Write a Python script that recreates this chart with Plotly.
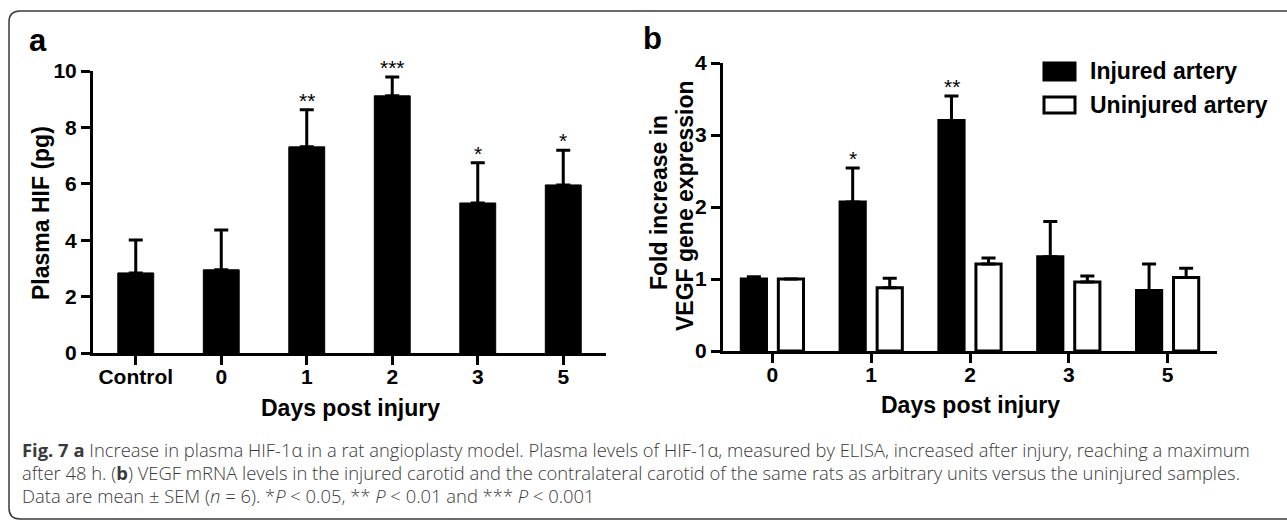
import plotly.graph_objects as go

# ---------------- data ----------------
days_a = ["Control", "0", "1", "2", "3", "5"]
hif_mean = [2.84, 2.95, 7.31, 9.12, 5.32, 5.96]
hif_sem = [1.17, 1.41, 1.32, 0.67, 1.43, 1.23]
sig_a = ["", "", "**", "***", "*", "*"]

days_b = ["0", "1", "2", "3", "5"]
inj_mean = [1.00, 2.07, 3.20, 1.31, 0.84]
inj_sem = [0.03, 0.47, 0.34, 0.49, 0.37]
uninj_mean = [1.00, 0.88, 1.21, 0.96, 1.02]
uninj_sem = [0.0, 0.13, 0.08, 0.08, 0.13]
sig_b = ["", "*", "**", "", ""]

series_names = ["Injured artery", "Uninjured artery"]

caption_lines = [
    "<b>Fig. 7 a</b> Increase in plasma HIF-1α in a rat angioplasty model. Plasma levels of HIF-1α, measured by ELISA, increased after injury, reaching a maximum",
    "after 48 h. (<b>b</b>) VEGF mRNA levels in the injured carotid and the contralateral carotid of the same rats as arbitrary units versus the uninjured samples.",
    "Data are mean ± SEM (<i>n</i> = 6). *<i>P</i> &lt; 0.05, ** <i>P</i> &lt; 0.01 and *** <i>P</i> &lt; 0.001",
]

# ---------------- layout helpers ----------------
W, H = 1287, 521
def px(x):
    return x / W
def py(y):
    return 1 - y / H

FONT = "Liberation Sans, Arial, sans-serif"
CAPFONT = "Open Sans, Lato, sans-serif"

fig = go.Figure()

err_style = dict(type="data", symmetric=False, color="black", thickness=3, width=7)

fig.add_trace(go.Bar(
    x=days_a, y=hif_mean, width=0.42,
    marker=dict(color="black", line=dict(color="black", width=1)),
    error_y=dict(array=hif_sem, arrayminus=[0] * len(hif_sem), **err_style),
    xaxis="x", yaxis="y", showlegend=False, name="Plasma HIF",
))

fig.add_trace(go.Bar(
    x=days_b, y=inj_mean, name=series_names[0],
    marker=dict(color="black", line=dict(color="black", width=3)),
    error_y=dict(array=inj_sem, arrayminus=[0] * len(inj_sem), **err_style),
    xaxis="x2", yaxis="y2", showlegend=False,
))
fig.add_trace(go.Bar(
    x=days_b, y=uninj_mean, name=series_names[1],
    marker=dict(color="white", line=dict(color="black", width=3)),
    error_y=dict(array=uninj_sem, arrayminus=[0] * len(uninj_sem), **err_style),
    xaxis="x2", yaxis="y2", showlegend=False,
))

axis_common = dict(
    showline=True, linewidth=3, linecolor="black", ticks="outside",
    ticklen=9, tickwidth=3, tickcolor="black", showgrid=False, zeroline=False,
    tickfont=dict(family=FONT, size=21, color="black", weight="bold"),
    fixedrange=True, automargin=False,
)

annotations = []
star_font = dict(family=FONT, size=21, color="black")
# significance stars (category index positions)
for i, (m, s, t) in enumerate(zip(hif_mean, hif_sem, sig_a)):
    if t:
        annotations.append(dict(x=i, y=m + s, xref="x", yref="y", text=t, showarrow=False,
                                yanchor="bottom", yshift=-4, font=star_font))
for i, (m, s, t) in enumerate(zip(inj_mean, inj_sem, sig_b)):
    if t:
        annotations.append(dict(x=i, y=m + s, xref="x2", yref="y2", text=t, showarrow=False,
                                xshift=-18, yanchor="bottom", yshift=-4, font=star_font))

title_font = dict(family=FONT, size=23, color="black", weight="bold")
# axis titles
annotations += [
    dict(x=px(41), y=py(213), xref="paper", yref="paper", text="Plasma HIF (pg)", textangle=-90,
         showarrow=False, xanchor="center", yanchor="middle", font=title_font),
    dict(x=px(350), y=py(408), xref="paper", yref="paper", text="Days post injury",
         showarrow=False, xanchor="center", yanchor="middle", font=title_font),
    dict(x=px(659), y=py(203), xref="paper", yref="paper", text="Fold increase in",
         textangle=-90, showarrow=False, xanchor="center", yanchor="middle", font=title_font),
    dict(x=px(685), y=py(206), xref="paper", yref="paper", text="VEGF gene expression",
         textangle=-90, showarrow=False, xanchor="center", yanchor="middle", font=title_font),
    dict(x=px(970), y=py(405), xref="paper", yref="paper", text="Days post injury",
         showarrow=False, xanchor="center", yanchor="middle", font=title_font),
    # panel labels
    dict(x=px(38), y=py(41), xref="paper", yref="paper", text="a", showarrow=False,
         xanchor="center", yanchor="middle", font=dict(family=FONT, size=31, color="black", weight="bold")),
    dict(x=px(653), y=py(39), xref="paper", yref="paper", text="b", showarrow=False,
         xanchor="center", yanchor="middle", font=dict(family=FONT, size=31, color="black", weight="bold")),
    # legend texts
    dict(x=px(1088), y=py(71), xref="paper", yref="paper", text=series_names[0], showarrow=False,
         xanchor="left", yanchor="middle", font=title_font),
    dict(x=px(1088), y=py(105), xref="paper", yref="paper", text=series_names[1], showarrow=False,
         xanchor="left", yanchor="middle", font=title_font),
]
# caption
for i, line in enumerate(caption_lines):
    annotations.append(dict(x=px(20), y=py(449 + 23 * i), xref="paper", yref="paper", text=line,
                            showarrow=False, xanchor="left", yanchor="middle",
                            font=dict(family=CAPFONT, size=18.4, color="#3a3a3a", weight=300)))

shapes = [
    # legend keys
    dict(type="rect", xref="paper", yref="paper", x0=px(1044), x1=px(1075), y0=py(63), y1=py(80),
         fillcolor="black", line=dict(color="black", width=3)),
    dict(type="rect", xref="paper", yref="paper", x0=px(1044), x1=px(1075), y0=py(97), y1=py(113),
         fillcolor="white", line=dict(color="black", width=3)),
    # figure frame
    dict(type="path", xref="paper", yref="paper",
         path=(f"M {px(1300)},{py(11)} L {px(20)},{py(11)} Q {px(9)},{py(11)} {px(9)},{py(22)} "
               f"L {px(9)},{py(508)} Q {px(9)},{py(519)} {px(20)},{py(519)} L {px(1300)},{py(519)}"),
         line=dict(color="#3a3a3a", width=1.5)),
]

fig.update_layout(
    width=W, height=H, margin=dict(l=0, r=0, t=0, b=0, pad=0, autoexpand=False),
    paper_bgcolor="white", plot_bgcolor="white",
    barmode="group", bargap=0.25, bargroupgap=0.32,
    showlegend=False,
    xaxis=dict(domain=[px(93), px(606)], anchor="y", type="category", range=[-0.5, 5.5], **axis_common),
    yaxis=dict(domain=[py(353), py(71)], anchor="x", range=[0, 10], dtick=2, **axis_common),
    xaxis2=dict(domain=[px(723), px(1217)], anchor="y2", type="category", range=[-0.5, 4.5], **axis_common),
    yaxis2=dict(domain=[py(351), py(63)], anchor="x2", range=[0, 4], dtick=1, **axis_common),
    annotations=annotations,
    shapes=shapes,
)
fig.update_xaxes(ticklabelstandoff=-6)

fig.write_html("out.html", config={"displayModeBar": False},
               post_script="document.body.style.margin='0';document.body.style.overflow='hidden';")
